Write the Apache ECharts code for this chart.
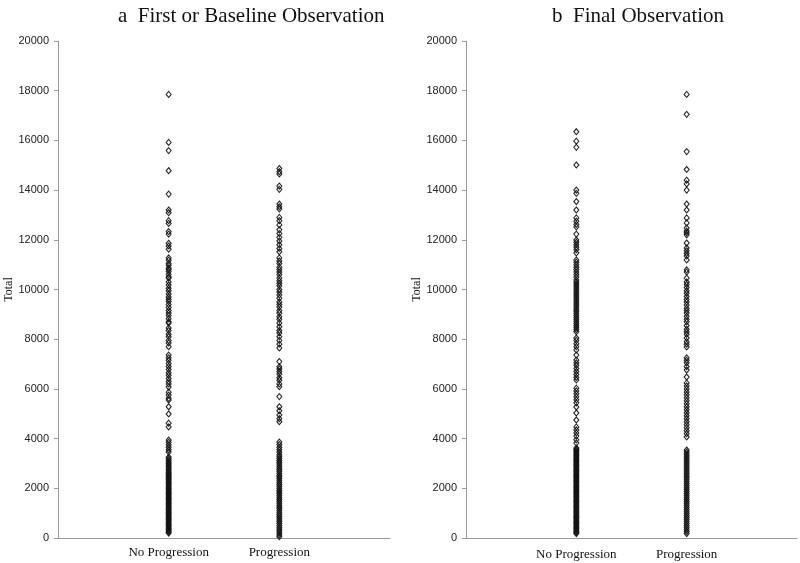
<!DOCTYPE html>
<html>
<head>
<meta charset="utf-8">
<script src="https://cdn.jsdelivr.net/npm/echarts@6/dist/echarts.min.js"></script>
<style>html,body{margin:0;padding:0;background:#fff}#c{width:800px;height:563px}</style>
</head>
<body>
<div id="c"></div>
<script>
// Category labels (x positions 1 and 2 on each panel)
var categories = ['No Progression', 'Progression'];
var titles = ['a  First or Baseline Observation', 'b  Final Observation'];
var yTicks = [0, 2000, 4000, 6000, 8000, 10000, 12000, 14000, 16000, 18000, 20000];

// Panel a: First or Baseline Observation
var firstNoProgression = [17850, 15920, 15590, 14780, 13840, 13200, 13090, 12770, 12660, 12330, 12230, 11860, 11750, 11620,
  11270, 11180, 11050, 10980, 10870, 10800, 10720, 10600, 10500, 10460,
  10300, 10180, 10050, 9950, 9820, 9700, 9600, 9520, 9400, 9280, 9150, 9050, 8950, 8820, 8700, 8650,
  8450, 8350, 8200, 8100, 7950, 7850, 7700,
  7360, 7250, 7150, 7020, 6900, 6780, 6650, 6550, 6420, 6300, 6200, 6075,
  5870, 5750, 5620, 5550, 5280, 4990, 4620, 4470, 3940, 3850, 3750, 3650, 3550, 3460,
  3260, 3200, 3130, 3060, 3000, 2940, 2880, 2820, 2760, 2700, 2640, 2590, 2540, 2490, 2440, 2390, 2340, 2290,
  2240, 2190, 2140, 2090, 2040, 1990, 1940, 1890, 1840, 1790, 1740, 1690, 1640, 1590, 1540, 1490, 1440, 1390,
  1340, 1290, 1240, 1190, 1140, 1090, 1040, 990, 940, 890, 840, 790, 740, 690, 640, 590, 540, 490, 440, 390,
  340, 290, 240, 200];
var firstProgression = [14870, 14740, 14650, 14160, 14030, 13440, 13330, 13240, 12900, 12770, 12600, 12400, 12250, 12100,
  11950, 11800, 11650, 11520, 11270, 11150, 11050, 10900, 10800, 10700, 10600, 10460,
  10350, 10250, 10150, 10000, 9900, 9780, 9650, 9500, 9400, 9300, 9150, 9050, 8900, 8800, 8650, 8500, 8350,
  8250, 8100, 7950, 7800, 7650,
  7100, 6890, 6800, 6700, 6600, 6450, 6350, 6200, 6090, 5690, 5280, 5120, 4950, 4800, 4680,
  3860, 3760, 3650, 3550, 3450, 3350, 3280, 3200, 3120, 3050, 2980, 2900, 2820, 2750, 2680, 2600, 2520, 2450,
  2380, 2300, 2220, 2150, 2080, 2000, 1920, 1850, 1780, 1700, 1620, 1550, 1480, 1400, 1320, 1250, 1180, 1100,
  1020, 950, 880, 800, 720, 650, 580, 500, 420, 350, 280, 200, 120, 50];

// Panel b: Final Observation
var finalNoProgression = [16350, 15970, 15720, 15010, 14000, 13870, 13540, 13200, 12880, 12750, 12620, 12520, 12230,
  11990, 11900, 11800, 11700, 11600, 11470, 11190, 11100, 11000, 10900, 10800, 10700, 10600, 10500, 10380,
  10300, 10220, 10140, 10060, 9980, 9900, 9820, 9740, 9660, 9580, 9500, 9420, 9340, 9260, 9180, 9100, 9020,
  8940, 8860, 8780, 8700, 8620, 8540, 8460, 8380, 8300,
  8050, 7950, 7820, 7700, 7570, 7360, 7160, 7050, 6950, 6820, 6700, 6580, 6460, 6360, 6030, 5920, 5800, 5680,
  5560, 5440, 5270, 5030, 4750, 4470, 4350, 4230, 4100, 3950, 3820,
  3620, 3570, 3520, 3470, 3420, 3370, 3320, 3270, 3220, 3170, 3120, 3070, 3020, 2970, 2920, 2870, 2820, 2770,
  2720, 2670, 2620, 2570, 2520, 2470, 2420, 2370, 2320, 2270, 2220, 2170, 2120, 2070, 2020, 1970, 1920, 1870,
  1820, 1770, 1720, 1670, 1620, 1570, 1520, 1470, 1420, 1370, 1320, 1270, 1220, 1170, 1120, 1070, 1020, 970,
  920, 870, 820, 770, 720, 670, 620, 570, 520, 470, 420, 370, 320, 270, 220, 180];
var finalProgression = [17850, 17050, 15550, 14830, 14400, 14250, 14000, 13440, 13200, 12880, 12680, 12470, 12350, 12280,
  12200, 11870, 11670, 11560, 11450, 11350, 11190, 10790, 10700, 10460,
  10300, 10200, 10080, 9950, 9850, 9720, 9600, 9500, 9380, 9250, 9150, 9050, 8920, 8800, 8700, 8550, 8400,
  8300, 8200, 8050, 7900, 7800, 7690,
  7250, 7150, 7050, 6900, 6760, 6480, 6240, 6120, 6000, 5880, 5760, 5640, 5520, 5400, 5280, 5160, 5040, 4920,
  4800, 4680, 4560, 4440, 4320, 4200, 4065,
  3540, 3460, 3380, 3300, 3220, 3140, 3060, 2980, 2900, 2820, 2740, 2660, 2580, 2500, 2420, 2340, 2260, 2180,
  2100, 2020, 1940, 1860, 1780, 1700, 1620, 1540, 1460, 1380, 1300, 1220, 1140, 1060, 980, 900, 820, 740, 660,
  580, 500, 420, 340, 260, 180];

var chart = echarts.init(document.getElementById('c'), null, {renderer: 'canvas'});

function pts(cat, arr) { return arr.map(function (v) { return [cat, v]; }); }

var serif = '"Liberation Serif", "Times New Roman", serif';
var sans = '"Liberation Sans", Arial, sans-serif';
var axisGray = '#9a9a9a';

function xAxisCfg(gi, margin) {
  return {
    type: 'value', gridIndex: gi, min: 0, max: 3, interval: 1,
    axisLine: {show: true, lineStyle: {color: axisGray, width: 1}},
    axisTick: {show: false},
    splitLine: {show: false},
    axisLabel: {
      margin: margin, color: '#111', fontFamily: serif, fontSize: 13,
      formatter: function (v) { return (v === 1 || v === 2) ? categories[v - 1] : ''; }
    }
  };
}
function yAxisCfg(gi, gap) {
  return {
    type: 'value', gridIndex: gi, min: yTicks[0], max: yTicks[yTicks.length - 1], interval: 2000,
    name: 'Total', nameLocation: 'middle', nameGap: gap, nameRotate: 90,
    nameTextStyle: {fontFamily: serif, fontSize: 12, color: '#111'},
    axisLine: {show: true, lineStyle: {color: axisGray, width: 1}},
    axisTick: {show: true, length: 4, lineStyle: {color: axisGray}},
    splitLine: {show: false},
    axisLabel: {margin: 9, color: '#222', fontFamily: sans, fontSize: 11,
      formatter: function (v) { return String(v); }}
  };
}
function scat(gi, data) {
  return {
    type: 'scatter', xAxisIndex: gi, yAxisIndex: gi, data: data,
    symbol: 'diamond', symbolSize: [5, 6],
    itemStyle: {color: 'rgba(255,255,255,0)', borderColor: '#111', borderWidth: 1.1, opacity: 0.9},
    silent: true, animation: false
  };
}

chart.setOption({
  animation: false,
  backgroundColor: '#fff',
  title: [
    {text: titles[0], left: 113, top: 1, textStyle: {fontFamily: serif, fontSize: 21, fontWeight: 'normal', color: '#111'}},
    {text: titles[1], left: 547, top: 1, textStyle: {fontFamily: serif, fontSize: 21, fontWeight: 'normal', color: '#111'}}
  ],
  grid: [
    {left: 58, right: 410, top: 41, bottom: 25},
    {left: 466, right: 3, top: 41, bottom: 25}
  ],
  xAxis: [xAxisCfg(0, 8), xAxisCfg(1, 10)],
  yAxis: [yAxisCfg(0, 42), yAxisCfg(1, 42)],
  series: [
    scat(0, pts(1, firstNoProgression)),
    scat(0, pts(2, firstProgression)),
    scat(1, pts(1, finalNoProgression)),
    scat(1, pts(2, finalProgression))
  ]
});
</script>
</body>
</html>
